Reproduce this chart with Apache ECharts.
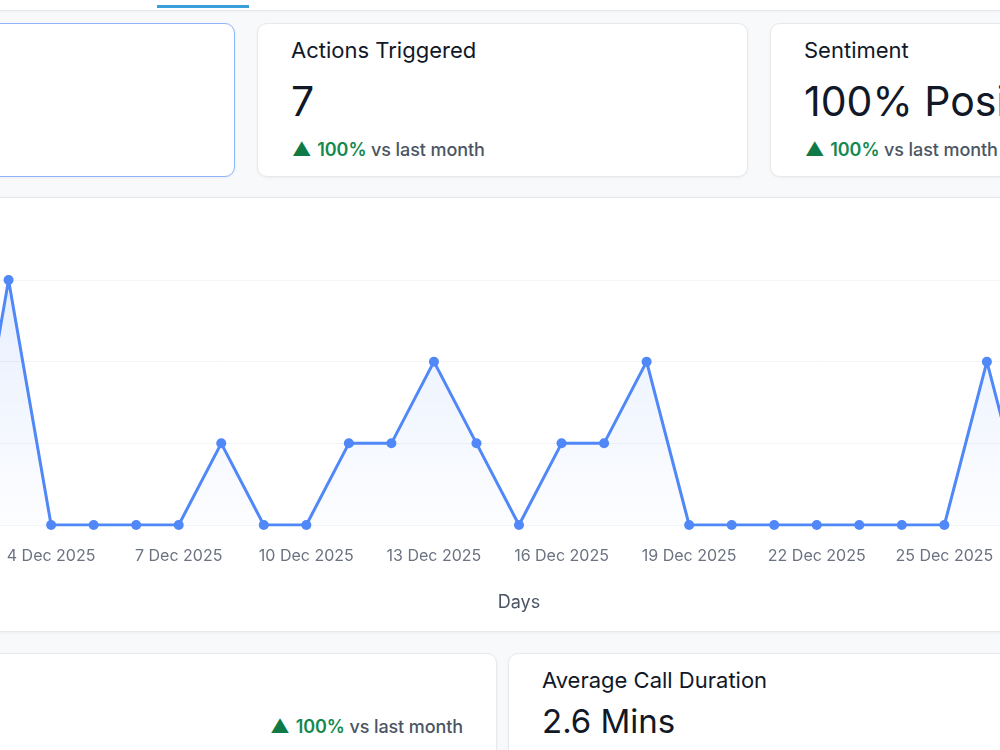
<!DOCTYPE html>
<html>
<head>
<meta charset="utf-8">
<script src="https://cdn.jsdelivr.net/npm/echarts@6/dist/echarts.min.js"></script>
<style>
  html, body { margin: 0; padding: 0; }
  body {
    width: 1000px; height: 750px; overflow: hidden; position: relative;
    background: #f8f9fa; font-family: Inter, "Noto Sans", sans-serif; color: #111827;
  }
  .topbar { position: absolute; left: 0; top: 0; width: 1000px; height: 10px; background: #fff;
    border-bottom: 1px solid #e5e7eb; box-shadow: 0 1px 2px rgba(0,0,0,0.04); }
  .tab { position: absolute; left: 157px; top: 5px; width: 92px; height: 3px; background: #3b9fdc; }
  .card { position: absolute; background: #fff; border: 1px solid #e7e9ec; border-radius: 10px;
    box-sizing: border-box; box-shadow: 0 1px 3px rgba(0,0,0,0.05); }
  .card.sel { border-color: #8fb3f7; }
  .ttl { position: absolute; font-size: 22px; font-weight: 400; color: #111827; white-space: nowrap; }
  .big { position: absolute; font-size: 41px; font-weight: 400; color: #111827; white-space: nowrap; }
  .trend { position: absolute; font-size: 18px; font-weight: 500; color: #4b5563; white-space: nowrap; letter-spacing: -0.1px; }
  .trend .up { color: #0e7a45; font-size: 19px; margin-right: 6px; }
  .trend .pct { color: #13894f; font-weight: 600; }
  #chart { position: absolute; left: -256px; top: 197px; width: 1517px; height: 434px; }
</style>
</head>
<body>
<div class="topbar"><div class="tab"></div></div>

<div class="card sel" style="left:-256px; top:23px; width:491px; height:154px;"></div>
<div class="card" style="left:257px; top:23px; width:491px; height:154px;">
  <div class="ttl" style="left:33px; top:13px;">Actions Triggered</div>
  <div class="big" style="left:33px; top:52px;">7</div>
  <div class="trend" style="left:34px; top:114px;"><span class="up">&#9650;</span><span class="pct">100%</span> vs last month</div>
</div>
<div class="card" style="left:770px; top:23px; width:491px; height:154px;">
  <div class="ttl" style="left:33px; top:13px;">Sentiment</div>
  <div class="big" style="left:33px; top:52px;">100% Positive</div>
  <div class="trend" style="left:34px; top:114px;"><span class="up">&#9650;</span><span class="pct">100%</span> vs last month</div>
</div>

<div class="card" style="left:-256px; top:197px; width:1517px; height:435px; border-radius:0; border-left:none; border-right:none;"></div>
<div id="chart"></div>

<div class="card" style="left:-256px; top:653px; width:753px; height:140px;">
  <div class="trend" style="right:33px; top:61px;"><span class="up">&#9650;</span><span class="pct">100%</span> vs last month</div>
</div>
<div class="card" style="left:508px; top:653px; width:753px; height:140px;">
  <div class="ttl" style="left:33px; top:13px;">Average Call Duration</div>
  <div class="big" style="left:33px; top:47px; font-size:33px;">2.6 Mins</div>
</div>

<script>
// days shown on the x axis
const days = [
  '1 Dec 2025', '2 Dec 2025', '3 Dec 2025', '4 Dec 2025', '5 Dec 2025', '6 Dec 2025',
  '7 Dec 2025', '8 Dec 2025', '9 Dec 2025', '10 Dec 2025', '11 Dec 2025', '12 Dec 2025',
  '13 Dec 2025', '14 Dec 2025', '15 Dec 2025', '16 Dec 2025', '17 Dec 2025', '18 Dec 2025',
  '19 Dec 2025', '20 Dec 2025', '21 Dec 2025', '22 Dec 2025', '23 Dec 2025', '24 Dec 2025',
  '25 Dec 2025', '26 Dec 2025', '27 Dec 2025', '28 Dec 2025', '29 Dec 2025'
];
// calls per day
const calls = [0, 0, 3, 0, 0, 0, 0, 1, 0, 0, 1, 1, 2, 1, 0, 1, 1, 2, 0, 0, 0, 0, 0, 0, 0, 2, 0, 0, 0];

const lineColor = '#5088f8';

const chart = echarts.init(document.getElementById('chart'));

const option = {
  animation: false,
  grid: {
    left: 179.5,
    right: 146.5,
    top: 83,
    bottom: 106
  },
  xAxis: {
    type: 'category',
    data: days,
    boundaryGap: false,
    name: 'Days',
    nameLocation: 'middle',
    nameGap: 69,
    nameTextStyle: { color: '#4b5563', fontSize: 18, fontFamily: 'Inter' },
    axisLine: { show: false },
    axisTick: { show: false },
    axisLabel: {
      interval: 2,
      margin: 23,
      color: '#6b7280',
      fontSize: 16,
      fontFamily: 'Inter'
    }
  },
  yAxis: {
    type: 'value',
    min: 0,
    max: 3,
    interval: 1,
    axisLabel: { show: false },
    axisLine: { show: false },
    axisTick: { show: false },
    splitLine: { lineStyle: { color: '#f3f4f6' } }
  },
  series: [{
    name: 'Calls',
    type: 'line',
    data: calls,
    symbol: 'circle',
    symbolSize: 10,
    itemStyle: { color: lineColor },
    lineStyle: { color: lineColor, width: 3 },
    areaStyle: {
      color: new echarts.graphic.LinearGradient(0, 0, 0, 1, [
        { offset: 0, color: 'rgba(80,136,248,0.2)' },
        { offset: 1, color: 'rgba(80,136,248,0.02)' }
      ])
    }
  }]
};

chart.setOption(option);
</script>
</body>
</html>
